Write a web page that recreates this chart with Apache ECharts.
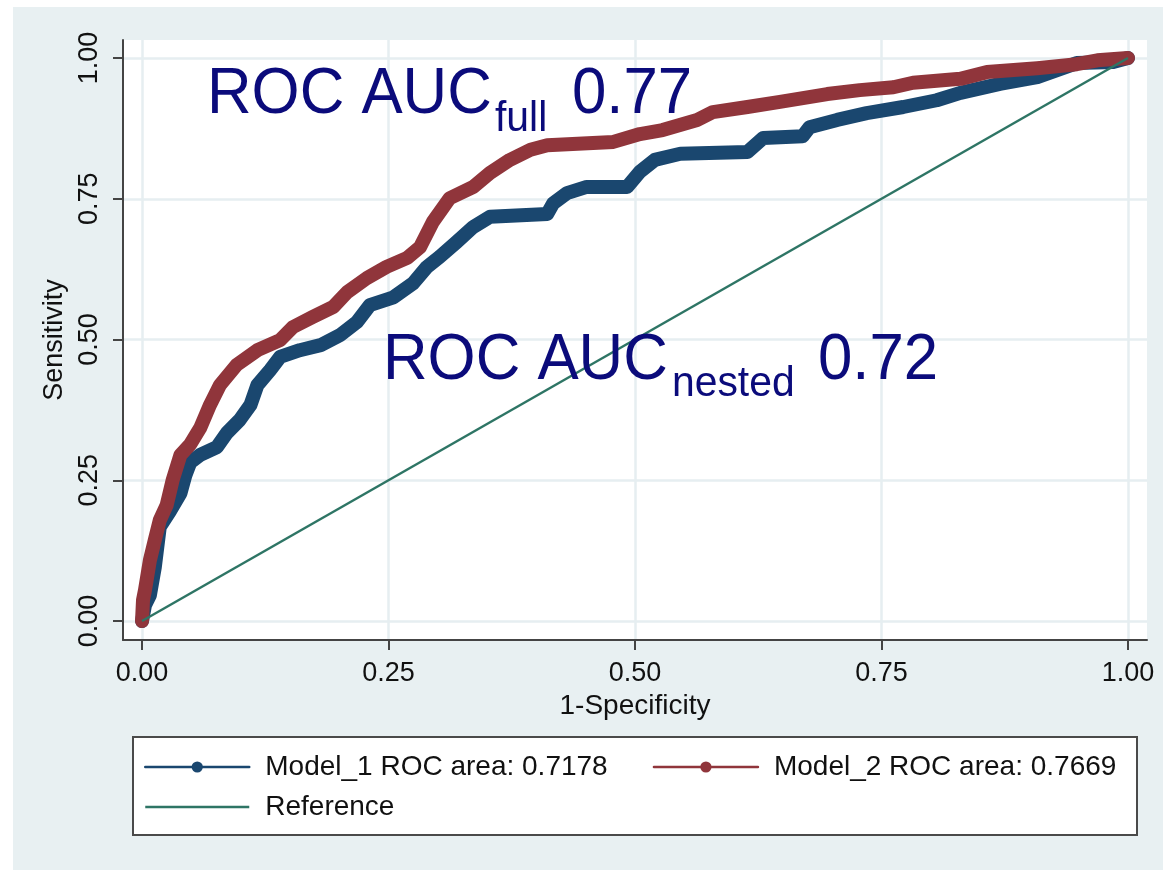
<!DOCTYPE html>
<html>
<head>
<meta charset="utf-8">
<script src="https://cdn.jsdelivr.net/npm/echarts@6/dist/echarts.min.js"></script>
<style>
  html, body { margin: 0; padding: 0; background: #ffffff; }
  #chart { position: absolute; left: 13px; top: 7px; width: 1150px; height: 863px; }
</style>
</head>
<body>
<div id="chart"></div>
<script>
const tickValues = [0, 0.25, 0.5, 0.75, 1];

// Model_1 ROC curve (1-specificity, sensitivity)
const fpr1 = [0, 0.003, 0.008, 0.013, 0.018, 0.028, 0.039, 0.044, 0.049, 0.059, 0.076, 0.086, 0.099, 0.110, 0.117, 0.130, 0.140, 0.160, 0.181, 0.201, 0.218, 0.231, 0.255, 0.275, 0.289, 0.302, 0.319, 0.336, 0.353, 0.411, 0.417, 0.431, 0.451, 0.492, 0.505, 0.520, 0.546, 0.614, 0.630, 0.670, 0.677, 0.705, 0.735, 0.772, 0.806, 0.830, 0.870, 0.908, 0.948, 0.985, 1];
const tpr1 = [0, 0.028, 0.046, 0.096, 0.167, 0.194, 0.227, 0.259, 0.282, 0.295, 0.309, 0.334, 0.357, 0.384, 0.419, 0.446, 0.469, 0.481, 0.490, 0.508, 0.531, 0.561, 0.575, 0.600, 0.629, 0.647, 0.673, 0.700, 0.718, 0.723, 0.742, 0.760, 0.771, 0.771, 0.798, 0.819, 0.830, 0.833, 0.858, 0.861, 0.877, 0.890, 0.902, 0.913, 0.925, 0.938, 0.954, 0.966, 0.991, 0.993, 1];

// Model_2 ROC curve
const fpr2 = [0, 0.001, 0.003, 0.008, 0.013, 0.018, 0.025, 0.031, 0.039, 0.049, 0.059, 0.069, 0.079, 0.096, 0.117, 0.140, 0.153, 0.173, 0.194, 0.208, 0.228, 0.248, 0.269, 0.282, 0.295, 0.312, 0.336, 0.353, 0.373, 0.394, 0.411, 0.478, 0.505, 0.528, 0.563, 0.579, 0.614, 0.647, 0.695, 0.728, 0.762, 0.782, 0.830, 0.857, 0.908, 0.948, 0.969, 1];
const tpr2 = [0, 0.037, 0.055, 0.108, 0.144, 0.179, 0.206, 0.250, 0.295, 0.314, 0.343, 0.384, 0.419, 0.455, 0.481, 0.499, 0.522, 0.540, 0.558, 0.584, 0.609, 0.629, 0.645, 0.664, 0.709, 0.751, 0.771, 0.796, 0.819, 0.837, 0.845, 0.851, 0.865, 0.872, 0.890, 0.904, 0.913, 0.922, 0.936, 0.943, 0.948, 0.956, 0.963, 0.975, 0.982, 0.989, 0.996, 1];

const refX = [0, 1];
const refY = [0, 1];

const names = ["Model_1 ROC area: 0.7178", "Model_2 ROC area: 0.7669", "Reference"];

const pairs = (xs, ys) => xs.map((x, i) => [x, ys[i]]);
const font = "Liberation Sans, Arial, sans-serif";
const navy = "#0b0b7b";

const chart = echarts.init(document.getElementById("chart"));
chart.setOption({
  animation: false,
  backgroundColor: "#e8f0f2",
  grid: {
    left: 110,
    right: 16,
    top: 33,
    bottom: 230,
    show: true,
    backgroundColor: "#ffffff",
    borderWidth: 0,
  },
  xAxis: {
    type: "value",
    min: -0.0193,
    max: 1.0193,
    name: "1-Specificity",
    nameLocation: "middle",
    nameGap: 48,
    nameTextStyle: { fontFamily: font, fontSize: 28, color: "#111" },
    axisLine: { show: true, onZero: false, lineStyle: { color: "#444", width: 2 } },
    axisTick: { show: true, length: 10, customValues: tickValues, lineStyle: { color: "#444", width: 2 } },
    axisLabel: {
      customValues: tickValues,
      formatter: (v) => v.toFixed(2),
      margin: 20,
      fontFamily: font,
      fontSize: 27,
      color: "#111",
    },
    splitLine: { show: true, lineStyle: { color: "#e6eef1", width: 2.5 } },
  },
  yAxis: {
    type: "value",
    min: -0.0337,
    max: 1.032,
    name: "Sensitivity",
    nameLocation: "middle",
    nameGap: 47,
    nameTextStyle: { fontFamily: font, fontSize: 27, color: "#111" },
    axisLine: { show: true, onZero: false, lineStyle: { color: "#444", width: 2 } },
    axisTick: { show: true, length: 10, customValues: tickValues, lineStyle: { color: "#444", width: 2 } },
    axisLabel: {
      customValues: tickValues,
      formatter: (v) => v.toFixed(2),
      rotate: 90,
      margin: 20,
      fontFamily: font,
      fontSize: 27,
      color: "#111",
    },
    splitLine: { show: true, lineStyle: { color: "#e6eef1", width: 2.5 } },
  },
  legend: [
    {
      data: [names[0], names[1]],
      left: 131,
      top: 746,
      padding: 0,
      itemGap: 45,
      itemWidth: 104,
      itemHeight: 14,
      lineStyle: { width: 2.5 },
      textStyle: { fontFamily: font, fontSize: 28, color: "#111", padding: [0, 0, 0, 11] },
    },
    {
      data: [names[2]],
      left: 131,
      top: 786,
      padding: 0,
      itemWidth: 104,
      itemHeight: 14,
      lineStyle: { width: 2.5 },
      itemStyle: { opacity: 0 },
      textStyle: { fontFamily: font, fontSize: 28, color: "#111", padding: [0, 0, 0, 11] },
    },
  ],
  graphic: [
    {
      type: "rect",
      z: -1,
      shape: { x: 120, y: 730, width: 1004, height: 98 },
      style: { fill: "#ffffff", stroke: "#4a4a4a", lineWidth: 2 },
    },
    { type: "text", x: 194, y: 88, scaleX: 0.95, z: 50, style: { text: "ROC AUC", fontFamily: font, fontSize: 65, fill: navy, verticalAlign: "middle" } },
    { type: "text", x: 482, y: 112, scaleX: 0.95, z: 50, style: { text: "full", fontFamily: font, fontSize: 43, fill: navy, verticalAlign: "middle" } },
    { type: "text", x: 559, y: 88, scaleX: 0.95, z: 50, style: { text: "0.77", fontFamily: font, fontSize: 65, fill: navy, verticalAlign: "middle" } },
    { type: "text", x: 370, y: 354, scaleX: 0.95, z: 50, style: { text: "ROC AUC", fontFamily: font, fontSize: 65, fill: navy, verticalAlign: "middle" } },
    { type: "text", x: 659, y: 377, scaleX: 0.95, z: 50, style: { text: "nested", fontFamily: font, fontSize: 43, fill: navy, verticalAlign: "middle" } },
    { type: "text", x: 805, y: 354, scaleX: 0.95, z: 50, style: { text: "0.72", fontFamily: font, fontSize: 65, fill: navy, verticalAlign: "middle" } },
  ],
  series: [
    {
      name: names[0],
      type: "line",
      data: pairs(fpr1, tpr1),
      symbol: "circle",
      symbolSize: 14,
      showSymbol: false,
      itemStyle: { color: "#1a476f" },
      lineStyle: { color: "#1a476f", width: 14, cap: "round", join: "round" },
    },
    {
      name: names[1],
      type: "line",
      data: pairs(fpr2, tpr2),
      symbol: "circle",
      symbolSize: 14,
      showSymbol: false,
      itemStyle: { color: "#90353b" },
      lineStyle: { color: "#90353b", width: 14, cap: "round", join: "round" },
    },
    {
      name: names[2],
      type: "line",
      data: pairs(refX, refY),
      symbol: "none",
      itemStyle: { color: "#2e7565" },
      lineStyle: { color: "#2e7565", width: 2.5 },
    },
  ],
});
</script>
</body>
</html>
